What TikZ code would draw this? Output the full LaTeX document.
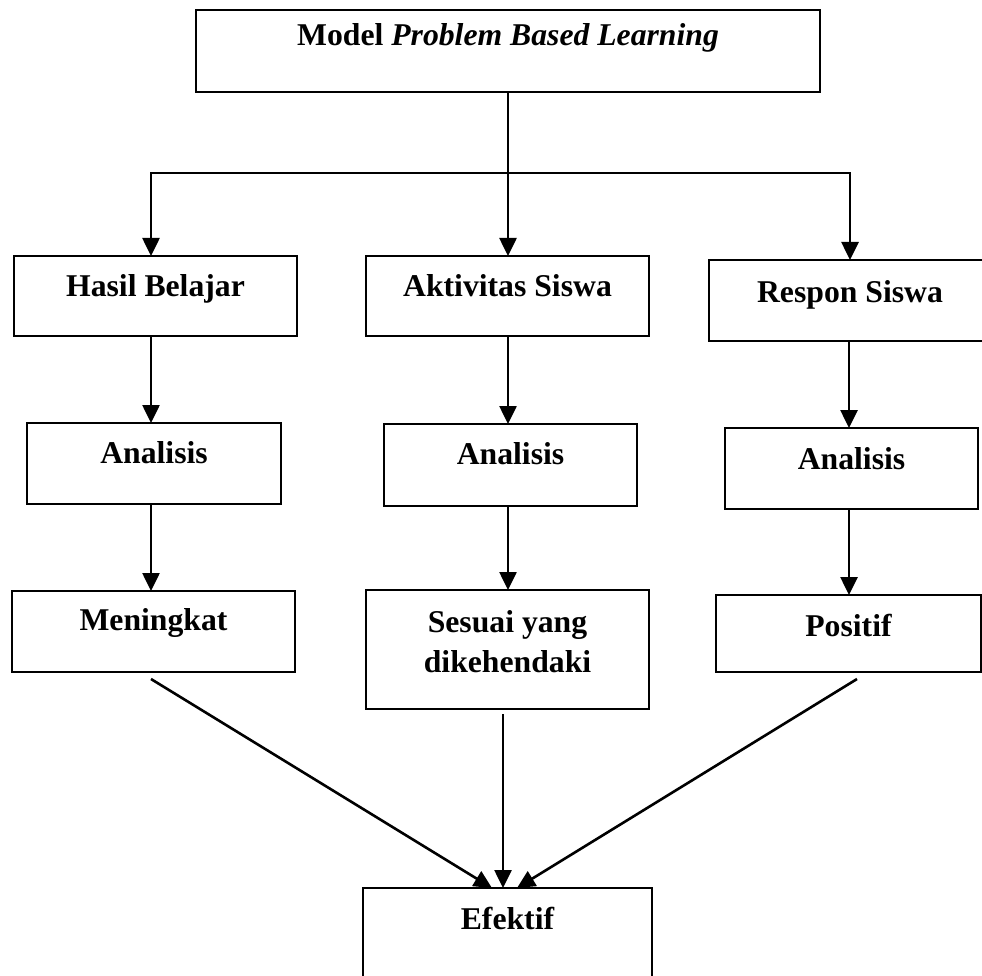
\documentclass[tikz,border=0pt]{standalone}
\usepackage{fontspec}
\setmainfont{Liberation Serif}
\usetikzlibrary{arrows.meta,calc}
\begin{document}
\begin{tikzpicture}[x=1pt,y=-1pt,
  box/.style={draw, line width=2pt, inner sep=0pt, outer sep=0pt, anchor=north west},
  lbl/.style={font=\fontsize{31.7}{38}\selectfont\bfseries, inner sep=0pt, anchor=base},
  conn/.style={line width=2.6pt},
  arr/.style={line width=2.6pt, -{Triangle[length=18pt,width=17pt]}}]
\useasboundingbox (0,0) rectangle (982,976);
\fill[white] (0,0) rectangle (982,976);
% boxes
\node[box, minimum width=624pt, minimum height=82pt] (top) at (196,10) {};
\node[box, minimum width=283pt, minimum height=80pt] (hasil) at (14,256) {};
\node[box, minimum width=283pt, minimum height=80pt] (akt) at (366,256) {};
\node[box, minimum width=282pt, minimum height=81pt] (resp) at (709,260) {};
\node[box, minimum width=254pt, minimum height=81pt] (an1) at (27,423) {};
\node[box, minimum width=253pt, minimum height=82pt] (an2) at (384,424) {};
\node[box, minimum width=253pt, minimum height=81pt] (an3) at (725,428) {};
\node[box, minimum width=283pt, minimum height=81pt] (men) at (12,591) {};
\node[box, minimum width=283pt, minimum height=119pt] (ses) at (366,590) {};
\node[box, minimum width=265pt, minimum height=77pt] (pos) at (716,595) {};
\node[box, minimum width=289pt, minimum height=120pt] (ef) at (363,888) {};
% texts
\node[lbl] (t-top) at ($(top.north)+(0,36)$) {Model \textit{Problem Based Learning}};
\node[lbl] (t-hasil) at ($(hasil.north)+(0,40)$) {Hasil Belajar};
\node[lbl] (t-akt) at ($(akt.north)+(0,40)$) {Aktivitas Siswa};
\node[lbl] (t-resp) at ($(resp.north)+(0,42)$) {Respon Siswa};
\node[lbl] (t-an1) at ($(an1.north)+(0,40)$) {Analisis};
\node[lbl] (t-an2) at ($(an2.north)+(0,40)$) {Analisis};
\node[lbl] (t-an3) at ($(an3.north)+(0,41)$) {Analisis};
\node[lbl] (t-men) at ($(men.north)+(0,39)$) {Meningkat};
\node[lbl] (t-ses1) at ($(ses.north)+(0,42)$) {Sesuai yang};
\node[lbl] (t-ses2) at ($(ses.north)+(0,82)$) {dikehendaki};
\node[lbl] (t-pos) at ($(pos.north)+(0,41)$) {Positif};
\node[lbl] (t-ef) at ($(ef.north)+(0,41)$) {Efektif};
% connectors
\coordinate (c1) at (151,173);
\coordinate (c2) at (508,173);
\coordinate (c3) at (850,173);
\draw[conn] (top.south -| c2) -- (c2);
\draw[conn, line cap=rect] (c1) -- (c3);
\draw[arr] (c1) -- (hasil.north -| c1);
\draw[arr] (c2) -- (akt.north -| c2);
\draw[arr] (c3) -- (resp.north -| c3);
\coordinate (k1) at (151,0);
\coordinate (k2) at (508,0);
\coordinate (k3) at (849,0);
\draw[arr] (hasil.south -| k1) -- (an1.north -| k1);
\draw[arr] (akt.south -| k2) -- (an2.north -| k2);
\draw[arr] (resp.south -| k3) -- (an3.north -| k3);
\draw[arr] (an1.south -| k1) -- (men.north -| k1);
\draw[arr] (an2.south -| k2) -- (ses.north -| k2);
\draw[arr] (an3.south -| k3) -- (pos.north -| k3);
\coordinate (d1) at (151,679);
\coordinate (d2) at (503,714);
\coordinate (d3) at (857,679);
\draw[arr] (d1) -- ($(ef.north)+(-15.5,0)$);
\draw[arr] (d2) -- ($(ef.north)+(-4.5,0)$);
\draw[arr] (d3) -- ($(ef.north)+(9.5,0)$);
\end{tikzpicture}
\end{document}
